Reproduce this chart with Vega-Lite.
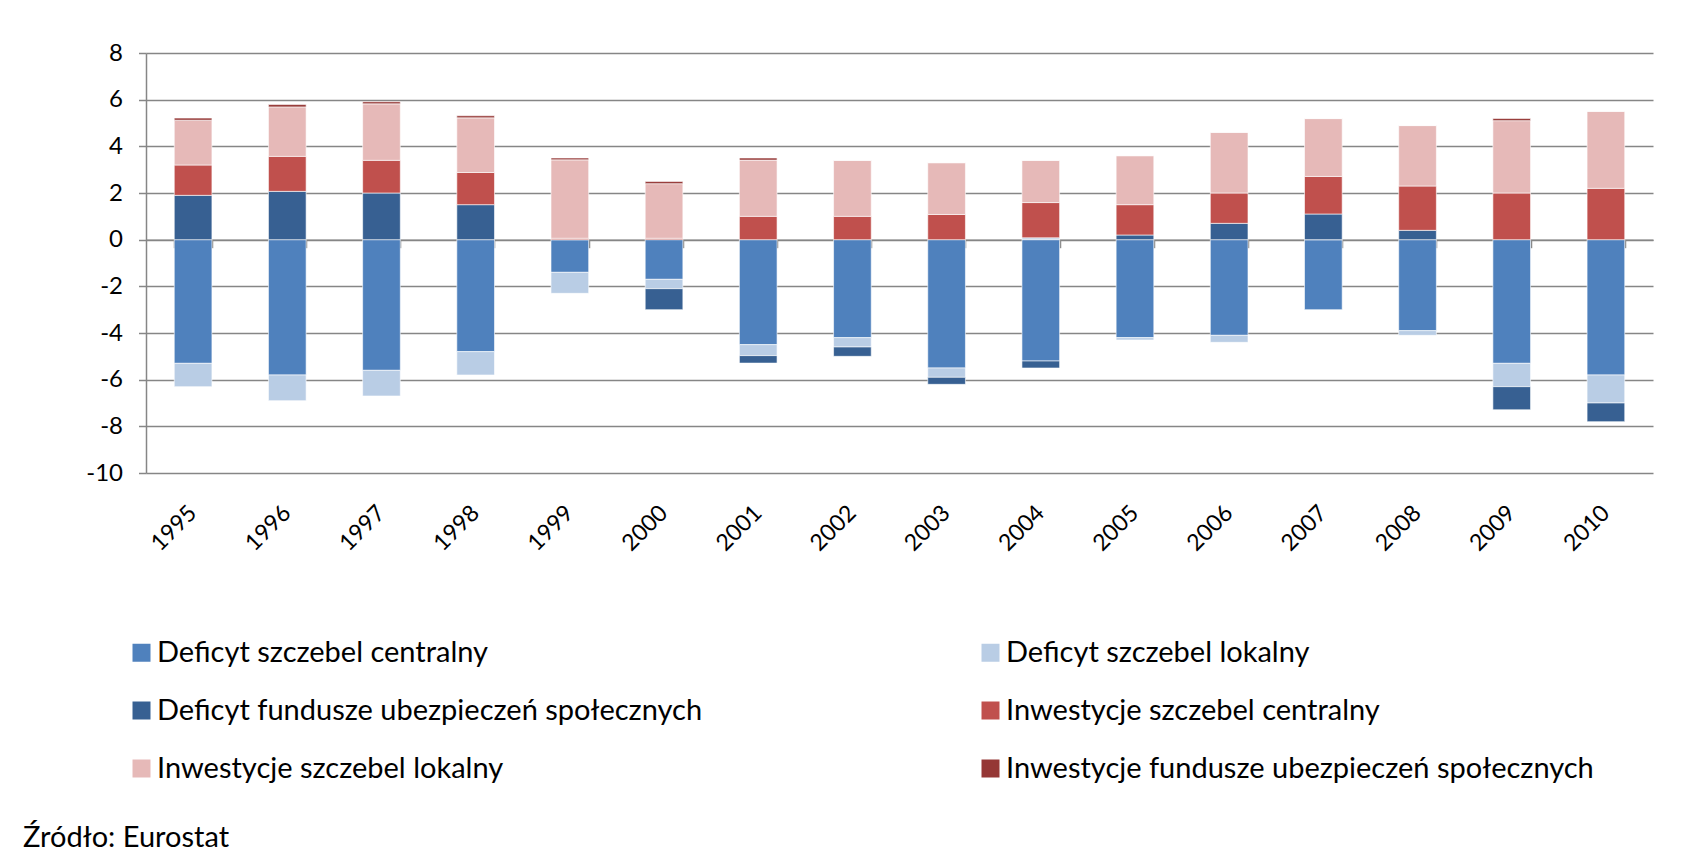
{
  "$schema": "https://vega.github.io/schema/vega-lite/v6.json",
  "autosize": {"type": "none"},
  "width": 1507,
  "height": 420,
  "padding": {"left": 146, "top": 53, "right": 47, "bottom": 383},
  "background": "white",
  "config": {"font": "Lato", "view": {"stroke": null}},
  "title": {
    "text": "Źródło: Eurostat",
    "orient": "bottom",
    "anchor": "start",
    "frame": "group",
    "fontSize": 29,
    "fontWeight": "normal",
    "color": "black",
    "dx": -123,
    "dy": 40,
    "offset": 0
  },
  "data": {
    "values": [
      {"year": "1995", "series": "Deficyt szczebel centralny", "ord": 1, "value": -5.3},
      {"year": "1995", "series": "Deficyt szczebel lokalny", "ord": 2, "value": -1.0},
      {"year": "1995", "series": "Deficyt fundusze ubezpieczeń społecznych", "ord": 3, "value": 1.9},
      {"year": "1995", "series": "Inwestycje szczebel centralny", "ord": 4, "value": 1.3},
      {"year": "1995", "series": "Inwestycje szczebel lokalny", "ord": 5, "value": 1.92},
      {"year": "1995", "series": "Inwestycje fundusze ubezpieczeń społecznych", "ord": 6, "value": 0.09},
      {"year": "1996", "series": "Deficyt szczebel centralny", "ord": 1, "value": -5.8},
      {"year": "1996", "series": "Deficyt szczebel lokalny", "ord": 2, "value": -1.1},
      {"year": "1996", "series": "Deficyt fundusze ubezpieczeń społecznych", "ord": 3, "value": 2.07},
      {"year": "1996", "series": "Inwestycje szczebel centralny", "ord": 4, "value": 1.5},
      {"year": "1996", "series": "Inwestycje szczebel lokalny", "ord": 5, "value": 2.12},
      {"year": "1996", "series": "Inwestycje fundusze ubezpieczeń społecznych", "ord": 6, "value": 0.1},
      {"year": "1997", "series": "Deficyt szczebel centralny", "ord": 1, "value": -5.6},
      {"year": "1997", "series": "Deficyt szczebel lokalny", "ord": 2, "value": -1.1},
      {"year": "1997", "series": "Deficyt fundusze ubezpieczeń społecznych", "ord": 3, "value": 2.0},
      {"year": "1997", "series": "Inwestycje szczebel centralny", "ord": 4, "value": 1.4},
      {"year": "1997", "series": "Inwestycje szczebel lokalny", "ord": 5, "value": 2.42},
      {"year": "1997", "series": "Inwestycje fundusze ubezpieczeń społecznych", "ord": 6, "value": 0.09},
      {"year": "1998", "series": "Deficyt szczebel centralny", "ord": 1, "value": -4.8},
      {"year": "1998", "series": "Deficyt szczebel lokalny", "ord": 2, "value": -1.0},
      {"year": "1998", "series": "Deficyt fundusze ubezpieczeń społecznych", "ord": 3, "value": 1.5},
      {"year": "1998", "series": "Inwestycje szczebel centralny", "ord": 4, "value": 1.38},
      {"year": "1998", "series": "Inwestycje szczebel lokalny", "ord": 5, "value": 2.34},
      {"year": "1998", "series": "Inwestycje fundusze ubezpieczeń społecznych", "ord": 6, "value": 0.09},
      {"year": "1999", "series": "Deficyt szczebel centralny", "ord": 1, "value": -1.4},
      {"year": "1999", "series": "Deficyt szczebel lokalny", "ord": 2, "value": -0.9},
      {"year": "1999", "series": "Deficyt fundusze ubezpieczeń społecznych", "ord": 3, "value": 0},
      {"year": "1999", "series": "Inwestycje szczebel centralny", "ord": 4, "value": 0.06},
      {"year": "1999", "series": "Inwestycje szczebel lokalny", "ord": 5, "value": 3.36},
      {"year": "1999", "series": "Inwestycje fundusze ubezpieczeń społecznych", "ord": 6, "value": 0.08},
      {"year": "2000", "series": "Deficyt szczebel centralny", "ord": 1, "value": -1.7},
      {"year": "2000", "series": "Deficyt szczebel lokalny", "ord": 2, "value": -0.4},
      {"year": "2000", "series": "Deficyt fundusze ubezpieczeń społecznych", "ord": 3, "value": -0.9},
      {"year": "2000", "series": "Inwestycje szczebel centralny", "ord": 4, "value": 0.06},
      {"year": "2000", "series": "Inwestycje szczebel lokalny", "ord": 5, "value": 2.34},
      {"year": "2000", "series": "Inwestycje fundusze ubezpieczeń społecznych", "ord": 6, "value": 0.09},
      {"year": "2001", "series": "Deficyt szczebel centralny", "ord": 1, "value": -4.5},
      {"year": "2001", "series": "Deficyt szczebel lokalny", "ord": 2, "value": -0.47},
      {"year": "2001", "series": "Deficyt fundusze ubezpieczeń społecznych", "ord": 3, "value": -0.32},
      {"year": "2001", "series": "Inwestycje szczebel centralny", "ord": 4, "value": 1.0},
      {"year": "2001", "series": "Inwestycje szczebel lokalny", "ord": 5, "value": 2.41},
      {"year": "2001", "series": "Inwestycje fundusze ubezpieczeń społecznych", "ord": 6, "value": 0.09},
      {"year": "2002", "series": "Deficyt szczebel centralny", "ord": 1, "value": -4.2},
      {"year": "2002", "series": "Deficyt szczebel lokalny", "ord": 2, "value": -0.4},
      {"year": "2002", "series": "Deficyt fundusze ubezpieczeń społecznych", "ord": 3, "value": -0.4},
      {"year": "2002", "series": "Inwestycje szczebel centralny", "ord": 4, "value": 1.0},
      {"year": "2002", "series": "Inwestycje szczebel lokalny", "ord": 5, "value": 2.4},
      {"year": "2002", "series": "Inwestycje fundusze ubezpieczeń społecznych", "ord": 6, "value": 0},
      {"year": "2003", "series": "Deficyt szczebel centralny", "ord": 1, "value": -5.5},
      {"year": "2003", "series": "Deficyt szczebel lokalny", "ord": 2, "value": -0.4},
      {"year": "2003", "series": "Deficyt fundusze ubezpieczeń społecznych", "ord": 3, "value": -0.3},
      {"year": "2003", "series": "Inwestycje szczebel centralny", "ord": 4, "value": 1.08},
      {"year": "2003", "series": "Inwestycje szczebel lokalny", "ord": 5, "value": 2.22},
      {"year": "2003", "series": "Inwestycje fundusze ubezpieczeń społecznych", "ord": 6, "value": 0},
      {"year": "2004", "series": "Deficyt szczebel centralny", "ord": 1, "value": -5.2},
      {"year": "2004", "series": "Deficyt szczebel lokalny", "ord": 2, "value": 0.08},
      {"year": "2004", "series": "Deficyt fundusze ubezpieczeń społecznych", "ord": 3, "value": -0.3},
      {"year": "2004", "series": "Inwestycje szczebel centralny", "ord": 4, "value": 1.51},
      {"year": "2004", "series": "Inwestycje szczebel lokalny", "ord": 5, "value": 1.81},
      {"year": "2004", "series": "Inwestycje fundusze ubezpieczeń społecznych", "ord": 6, "value": 0},
      {"year": "2005", "series": "Deficyt szczebel centralny", "ord": 1, "value": -4.2},
      {"year": "2005", "series": "Deficyt szczebel lokalny", "ord": 2, "value": -0.1},
      {"year": "2005", "series": "Deficyt fundusze ubezpieczeń społecznych", "ord": 3, "value": 0.2},
      {"year": "2005", "series": "Inwestycje szczebel centralny", "ord": 4, "value": 1.3},
      {"year": "2005", "series": "Inwestycje szczebel lokalny", "ord": 5, "value": 2.1},
      {"year": "2005", "series": "Inwestycje fundusze ubezpieczeń społecznych", "ord": 6, "value": 0},
      {"year": "2006", "series": "Deficyt szczebel centralny", "ord": 1, "value": -4.1},
      {"year": "2006", "series": "Deficyt szczebel lokalny", "ord": 2, "value": -0.3},
      {"year": "2006", "series": "Deficyt fundusze ubezpieczeń społecznych", "ord": 3, "value": 0.7},
      {"year": "2006", "series": "Inwestycje szczebel centralny", "ord": 4, "value": 1.3},
      {"year": "2006", "series": "Inwestycje szczebel lokalny", "ord": 5, "value": 2.6},
      {"year": "2006", "series": "Inwestycje fundusze ubezpieczeń społecznych", "ord": 6, "value": 0},
      {"year": "2007", "series": "Deficyt szczebel centralny", "ord": 1, "value": -3.0},
      {"year": "2007", "series": "Deficyt szczebel lokalny", "ord": 2, "value": 0},
      {"year": "2007", "series": "Deficyt fundusze ubezpieczeń społecznych", "ord": 3, "value": 1.1},
      {"year": "2007", "series": "Inwestycje szczebel centralny", "ord": 4, "value": 1.61},
      {"year": "2007", "series": "Inwestycje szczebel lokalny", "ord": 5, "value": 2.48},
      {"year": "2007", "series": "Inwestycje fundusze ubezpieczeń społecznych", "ord": 6, "value": 0},
      {"year": "2008", "series": "Deficyt szczebel centralny", "ord": 1, "value": -3.9},
      {"year": "2008", "series": "Deficyt szczebel lokalny", "ord": 2, "value": -0.2},
      {"year": "2008", "series": "Deficyt fundusze ubezpieczeń społecznych", "ord": 3, "value": 0.4},
      {"year": "2008", "series": "Inwestycje szczebel centralny", "ord": 4, "value": 1.9},
      {"year": "2008", "series": "Inwestycje szczebel lokalny", "ord": 5, "value": 2.59},
      {"year": "2008", "series": "Inwestycje fundusze ubezpieczeń społecznych", "ord": 6, "value": 0},
      {"year": "2009", "series": "Deficyt szczebel centralny", "ord": 1, "value": -5.3},
      {"year": "2009", "series": "Deficyt szczebel lokalny", "ord": 2, "value": -1.0},
      {"year": "2009", "series": "Deficyt fundusze ubezpieczeń społecznych", "ord": 3, "value": -0.99},
      {"year": "2009", "series": "Inwestycje szczebel centralny", "ord": 4, "value": 2.0},
      {"year": "2009", "series": "Inwestycje szczebel lokalny", "ord": 5, "value": 3.1},
      {"year": "2009", "series": "Inwestycje fundusze ubezpieczeń społecznych", "ord": 6, "value": 0.09},
      {"year": "2010", "series": "Deficyt szczebel centralny", "ord": 1, "value": -5.8},
      {"year": "2010", "series": "Deficyt szczebel lokalny", "ord": 2, "value": -1.2},
      {"year": "2010", "series": "Deficyt fundusze ubezpieczeń społecznych", "ord": 3, "value": -0.8},
      {"year": "2010", "series": "Inwestycje szczebel centralny", "ord": 4, "value": 2.2},
      {"year": "2010", "series": "Inwestycje szczebel lokalny", "ord": 5, "value": 3.3},
      {"year": "2010", "series": "Inwestycje fundusze ubezpieczeń społecznych", "ord": 6, "value": 0}
    ]
  },
  "layer": [
    {
      "mark": {"type": "bar", "stroke": "white", "strokeWidth": 0.6},
      "encoding": {
        "x": {
          "field": "year",
          "type": "ordinal",
          "scale": {"paddingInner": 0.6, "paddingOuter": 0.3},
          "axis": {
            "title": null,
            "domain": false,
            "ticks": false,
            "grid": false,
            "labelAngle": -45,
            "labelAlign": "right",
            "labelBaseline": "middle",
            "labelPadding": 36,
            "labelFontSize": 23,
            "labelColor": "black",
            "labelFont": "Lato"
          }
        },
        "y": {
          "field": "value",
          "type": "quantitative",
          "stack": "zero",
          "scale": {"domain": [-10, 8], "nice": false},
          "axis": {
            "title": null,
            "values": [-10, -8, -6, -4, -2, 0, 2, 4, 6, 8],
            "labelExpr": "replace(datum.label, '\u2212', '-')",
            "grid": true,
            "gridColor": "#868686",
            "gridWidth": 1.5,
            "domainColor": "#868686",
            "domainWidth": 1.5,
            "tickColor": "#868686",
            "tickWidth": 1.5,
            "tickSize": 7.5,
            "labelPadding": 16,
            "labelFontSize": 24,
            "labelColor": "black",
            "labelFont": "Lato"
          }
        },
        "color": {
          "field": "series",
          "type": "nominal",
          "scale": {
            "domain": [
              "Deficyt szczebel centralny",
              "Deficyt szczebel lokalny",
              "Deficyt fundusze ubezpieczeń społecznych",
              "Inwestycje szczebel centralny",
              "Inwestycje szczebel lokalny",
              "Inwestycje fundusze ubezpieczeń społecznych"
            ],
            "range": ["#4F81BD", "#B9CDE5", "#376092", "#C0504D", "#E6B9B8", "#953735"]
          },
          "legend": {
            "title": null,
            "orient": "none",
            "direction": "horizontal",
            "legendX": -19,
            "legendY": 585,
            "columns": 2,
            "columnPadding": 273,
            "rowPadding": 28,
            "symbolType": "square",
            "symbolSize": 324,
            "symbolStrokeWidth": 0,
            "labelFontSize": 29,
            "labelFont": "Lato",
            "labelColor": "black",
            "labelLimit": 900,
            "labelOffset": 1
          }
        },
        "order": {"field": "ord", "type": "quantitative"}
      }
    },
    {
      "mark": {"type": "bar", "opacity": 0},
      "encoding": {
        "x": {
          "field": "year",
          "type": "ordinal",
          "axis": {
            "title": null,
            "orient": "bottom",
            "offset": -233.3,
            "labels": false,
            "grid": false,
            "tickBand": "extent",
            "tickSize": 8,
            "tickColor": "#868686",
            "tickWidth": 1.5,
            "domainColor": "#868686",
            "domainWidth": 1.5
          }
        },
        "y": {"datum": 0, "type": "quantitative", "axis": null}
      }
    }
  ],
  "resolve": {"axis": {"x": "independent", "y": "independent"}}
}
